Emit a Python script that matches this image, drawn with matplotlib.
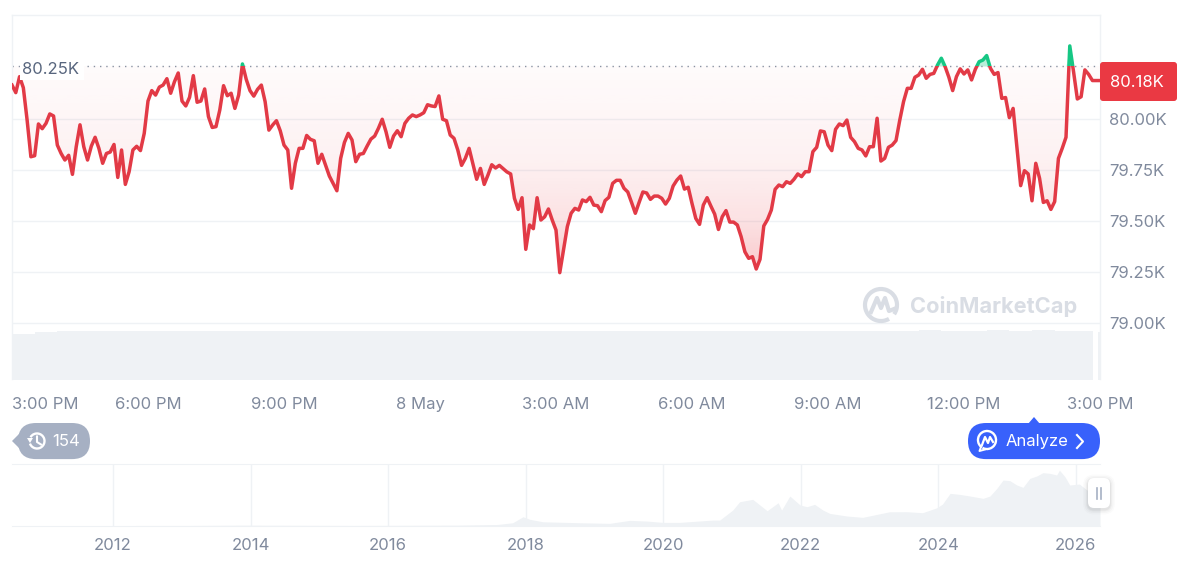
import numpy as np
import matplotlib
matplotlib.use('Agg')
import matplotlib.pyplot as plt
from matplotlib.patches import FancyBboxPatch, Polygon, Arc

plt.rcParams['font.family'] = ['Inter', 'DejaVu Sans']

# price in thousand USD, one reading every 5 minutes over 24 hours
prices = [
    80.164, 80.127, 80.205, 80.151, 79.993, 79.814, 79.819, 79.974, 79.951, 79.977, 80.023, 80.013,
    79.871, 79.830, 79.798, 79.821, 79.728, 79.863, 79.970, 79.863, 79.798, 79.866, 79.909, 79.855,
    79.782, 79.830, 79.837, 79.874, 79.713, 79.847, 79.679, 79.741, 79.847, 79.865, 79.844, 79.928,
    80.086, 80.137, 80.115, 80.154, 80.164, 80.195, 80.124, 80.180, 80.223, 80.086, 80.062, 80.104,
    80.210, 80.080, 80.086, 80.145, 80.010, 79.957, 79.961, 80.042, 80.161, 80.112, 80.124, 80.050,
    80.115, 80.267, 80.192, 80.137, 80.110, 80.143, 80.164, 80.083, 79.944, 79.969, 79.990, 79.941,
    79.871, 79.847, 79.660, 79.782, 79.855, 79.855, 79.918, 79.899, 79.892, 79.782, 79.826, 79.773,
    79.720, 79.684, 79.648, 79.806, 79.884, 79.928, 79.896, 79.790, 79.826, 79.830, 79.866, 79.900,
    79.915, 79.953, 79.997, 79.936, 79.860, 79.915, 79.941, 79.912, 79.977, 80.002, 80.018, 80.010,
    80.018, 80.029, 80.068, 80.062, 80.059, 80.111, 79.997, 79.990, 79.920, 79.904, 79.847, 79.772,
    79.806, 79.855, 79.779, 79.704, 79.757, 79.679, 79.725, 79.775, 79.759, 79.772, 79.756, 79.740,
    79.730, 79.611, 79.557, 79.614, 79.362, 79.481, 79.463, 79.614, 79.505, 79.521, 79.559, 79.505,
    79.456, 79.248, 79.359, 79.473, 79.538, 79.562, 79.554, 79.603, 79.595, 79.616, 79.578, 79.575,
    79.546, 79.600, 79.616, 79.684, 79.699, 79.699, 79.660, 79.642, 79.591, 79.538, 79.591, 79.642,
    79.637, 79.606, 79.622, 79.622, 79.611, 79.583, 79.611, 79.671, 79.700, 79.720, 79.656, 79.665,
    79.586, 79.513, 79.484, 79.578, 79.614, 79.573, 79.534, 79.459, 79.521, 79.551, 79.495, 79.495,
    79.481, 79.424, 79.350, 79.318, 79.326, 79.266, 79.313, 79.476, 79.508, 79.554, 79.655, 79.676,
    79.668, 79.692, 79.684, 79.704, 79.730, 79.717, 79.741, 79.741, 79.839, 79.860, 79.940, 79.936,
    79.871, 79.844, 79.948, 79.974, 79.966, 79.993, 79.909, 79.888, 79.855, 79.847, 79.818, 79.863,
    79.863, 80.002, 79.793, 79.806, 79.860, 79.871, 79.893, 79.993, 80.083, 80.148, 80.148, 80.202,
    80.213, 80.241, 80.197, 80.216, 80.221, 80.262, 80.295, 80.254, 80.202, 80.137, 80.205, 80.243,
    80.218, 80.238, 80.189, 80.241, 80.278, 80.286, 80.308, 80.246, 80.216, 80.225, 80.099, 80.103,
    80.005, 80.050, 79.863, 79.673, 79.746, 79.730, 79.599, 79.782, 79.709, 79.591, 79.599, 79.557,
    79.595, 79.806, 79.855, 79.909, 80.355, 80.229, 80.096, 80.107, 80.238, 80.216, 80.186, 80.186,
    80.186,
]
base_price = 80.257

# volume, half hour buckets, scaled to the panel height
volume = [
    0.84, 0.88, 0.90, 0.90, 0.89, 0.90, 0.90, 0.89, 0.90, 0.90, 0.89, 0.90,
    0.90, 0.90, 0.89, 0.90, 0.90, 0.90, 0.89, 0.89, 0.90, 0.90, 0.89, 0.90,
    0.89, 0.90, 0.90, 0.89, 0.90, 0.90, 0.89, 0.90, 0.89, 0.90, 0.90, 0.90,
    0.89, 0.90, 0.89, 0.90, 0.91, 0.90, 0.90, 0.91, 0.90, 0.91, 0.90, 0.90,
]

hour_ticks = [0, 3, 6, 9, 12, 15, 18, 21, 24]
hour_labels = ['3:00 PM', '6:00 PM', '9:00 PM', '8 May', '3:00 AM', '6:00 AM', '9:00 AM', '12:00 PM', '3:00 PM']
price_ticks = [79.0, 79.25, 79.5, 79.75, 80.0]
price_labels = ['79.00K', '79.25K', '79.50K', '79.75K', '80.00K']

# overview strip, whole history
hist_years = [2010.53, 2013.0, 2013.9, 2015.5, 2017.0, 2017.58, 2017.81, 2017.96, 2018.06, 2018.25, 2018.79,
              2019.22, 2019.51, 2019.76, 2019.99, 2020.24, 2020.72, 2020.82, 2021.01, 2021.11, 2021.30,
              2021.51, 2021.67, 2021.72, 2021.84, 2021.99, 2022.09, 2022.20, 2022.32, 2022.42, 2022.67,
              2022.90, 2023.29, 2023.54, 2023.77, 2023.98, 2024.06, 2024.17, 2024.31, 2024.46, 2024.65,
              2024.75, 2024.85, 2024.94, 2025.04, 2025.14, 2025.23, 2025.33, 2025.43, 2025.52, 2025.62,
              2025.72, 2025.76, 2025.84, 2025.91, 2026.05, 2026.16, 2026.35]
hist_prices = [0.1, 0.2, 1.0, 0.3, 1.0, 2.4, 6.6, 20.7, 14.6, 8.9, 6.6,
               5.2, 12.2, 10.6, 7.5, 7.5, 12.9, 12.9, 36.4, 55.9, 61.6,
               34.8, 53.6, 36.4, 69.3, 48.2, 44.3, 49.8, 36.5, 28.6, 22.4,
               19.3, 32.4, 32.5, 30.2, 41.9, 50.5, 75.6, 73.2, 69.3, 63.9,
               69.3, 87.3, 106.9, 105.3, 95.2, 89.7, 110.8, 116.3, 124.1, 122.6,
               118.7, 130.0, 114.7, 95.2, 97.5, 83.4, 80.2]
year_ticks = [2012, 2014, 2016, 2018, 2020, 2022, 2024, 2026]

RED = '#e23a46'
GREEN = '#16c784'
GRID = '#eff2f5'
GREY = '#808a9d'
FS = 12
W, H = 1200, 561


def px_axes(left, top, right, bottom, **kw):
    return fig.add_axes([left / W, 1 - bottom / H, (right - left) / W, (bottom - top) / H], **kw)


fig = plt.figure(figsize=(12, 5.61), dpi=100, facecolor='white')

hours = np.arange(len(prices)) / 12
prices = np.array(prices)

# ---- main price chart
ax = px_axes(12, 15, 1100, 379)
ymin, ymax = 78.729, 80.506
ax.set_xlim(0, 24)
ax.set_ylim(ymin, ymax)
for s in ['left', 'right', 'top']:
    ax.spines[s].set_color(GRID)
    ax.spines[s].set_linewidth(1)
ax.spines['bottom'].set_visible(False)
ax.set_xticks(hour_ticks)
ax.set_xticklabels(hour_labels)
ax.yaxis.tick_right()
ax.set_yticks(price_ticks)
ax.set_yticklabels(price_labels)
ax.tick_params(axis='both', length=0, labelcolor=GREY, labelsize=FS)
ax.tick_params(axis='x', pad=13)
ax.tick_params(axis='y', pad=6.5)
ax.xaxis.get_ticklabels()[0].set_ha('left')
ax.grid(axis='y', color=GRID, lw=1)
ax.set_axisbelow(True)

# gradient under the line, red under the base price and green over it
grad_y = np.linspace(base_price, 79.2, 200)
alpha = np.interp(grad_y, [79.2, 79.5, 79.8, base_price], [0.30, 0.15, 0.07, 0.02])
red_img = np.zeros((200, 1, 4))
red_img[..., :3] = matplotlib.colors.to_rgb('#ea3943')
red_img[..., 3] = alpha[:, None]
im = ax.imshow(red_img, extent=[0, 24, 79.2, base_price], aspect='auto', origin='upper', zorder=1.5)
poly = ax.fill_between(hours, np.minimum(prices, base_price), base_price, color='none', lw=0)
im.set_clip_path(poly.get_paths()[0], poly.get_transform())
ax.fill_between(hours, np.maximum(prices, base_price), base_price, color=GREEN, alpha=0.3, lw=0, zorder=1.5)

ax.axhline(base_price, color='#8a93a3', lw=1, ls=(0, (1, 3.5)), zorder=1.8)

line_red, = ax.plot(hours, prices, color=RED, lw=2.5, solid_joinstyle='round', zorder=3)
line_green, = ax.plot(hours, prices, color=GREEN, lw=2.5, solid_joinstyle='round', zorder=3)
clip_low = plt.Rectangle((0, ymin), 24, base_price - ymin, transform=ax.transData)
clip_high = plt.Rectangle((0, base_price), 24, ymax - base_price, transform=ax.transData)
line_red.set_clip_path(clip_low)
line_green.set_clip_path(clip_high)
ax.set_xlim(0, 24)
ax.set_ylim(ymin, ymax)

# ---- volume bars at the foot of the chart
ax_vol = px_axes(12, 325, 1100, 380, facecolor='none')
vol_hours = np.arange(len(volume)) / 2
widths = np.full(len(volume), 0.5)
widths[-1] = 0.35
ax_vol.bar(vol_hours, volume, width=widths, align='edge', color=GRID, lw=0)
ax_vol.bar([23.95], [0.88], width=0.05, align='edge', color=GRID, lw=0)
ax_vol.set_xlim(0, 24)
ax_vol.set_ylim(0, 1)
ax_vol.axis('off')

# ---- overview strip
ax_nav = px_axes(12, 464, 1100, 526)
ax_nav.fill_between(hist_years, hist_prices, -1, color=GRID, lw=0, zorder=2)
ax_nav.set_xlim(2010.53, 2026.35)
ax_nav.set_ylim(-1, 144.5)
ax_nav.set_yticks([])
ax_nav.set_xticks(year_ticks)
ax_nav.set_xticklabels([str(y) for y in year_ticks])
ax_nav.tick_params(axis='x', length=0, labelcolor=GREY, labelsize=FS, pad=9)
ax_nav.grid(axis='x', color=GRID, lw=1)
ax_nav.set_axisbelow(True)
for s in ['left', 'right']:
    ax_nav.spines[s].set_visible(False)
for s in ['top', 'bottom']:
    ax_nav.spines[s].set_color(GRID)

# ---- page furniture, drawn in pixel coordinates
ov = px_axes(0, 0, W, H, facecolor='none')
ov.set_xlim(0, W)
ov.set_ylim(H, 0)
ov.axis('off')

# base price label
ov.add_patch(plt.Rectangle((20, 60), 64, 19.5, color='white', lw=0, zorder=2))
ov.text(22, 69.5, '80.25K', color='#58667e', fontsize=FS, va='center', ha='left', zorder=3)

# current price chip
ov.add_patch(FancyBboxPatch((1103, 65), 71, 33, boxstyle='round,pad=3', color='#ea3943', lw=0))
ov.text(1137, 82, '80.18K', color='white', fontsize=FS, va='center', ha='center')

# watermark
wm = '#d9dde4'
ov.add_patch(Arc((881, 305), 32, 32, theta1=60, theta2=395, color=wm, lw=3))
ov.plot([871, 877, 881, 885, 889, 894], [312, 298, 308, 298, 311, 309], color=wm, lw=3, solid_joinstyle='round')
ov.text(910, 306.5, 'CoinMarketCap', color=wm, fontsize=15.7, fontweight='bold', va='center', ha='left')

# history badge
badge = '#a6b0c3'
ov.add_patch(FancyBboxPatch((36, 441), 36, 0.1, boxstyle='round,pad=18', color=badge, lw=0))
ov.add_patch(Polygon([(12, 441), (26, 427), (26, 455)], color=badge, lw=0))
ov.add_patch(Arc((37, 441), 15, 15, theta1=-150, theta2=160, color='white', lw=1.7))
ov.plot([37, 37, 41], [436.5, 442, 444.5], color='white', lw=1.5)
ov.add_patch(Polygon([(27, 438), (33, 438), (30, 443)], color='white', lw=0))
ov.text(52, 441.5, '154', color='white', fontsize=FS, va='center', ha='left')

# analyze button
blue = '#3861fb'
ov.add_patch(FancyBboxPatch((986, 441), 96, 0.1, boxstyle='round,pad=18', color=blue, lw=0))
ov.add_patch(Polygon([(1028, 424), (1034, 417), (1040, 424)], color=blue, lw=0))
ov.add_patch(Arc((987, 440), 18, 18, theta1=-235, theta2=120, color='white', lw=1.7))
ov.plot([982, 985, 988, 990, 993], [445, 437, 443, 437, 442], color='white', lw=1.6)
ov.plot([981, 979.5, 985], [447, 451, 449.5], color='white', lw=1.4)
ov.text(1006, 441.5, 'Analyze', color='white', fontsize=FS, va='center', ha='left')
ov.plot([1077, 1083, 1077], [435, 441.5, 448], color='white', lw=1.5, solid_joinstyle='round')

# range handle with a soft shadow
for grow, a in [(5, 0.015), (3.5, 0.025), (2, 0.03), (1, 0.04)]:
    ov.add_patch(FancyBboxPatch((1094, 485.5), 10, 18, boxstyle='round,pad=%.1f' % (6 + grow),
                                color='#000000', alpha=a, lw=0))
ov.add_patch(FancyBboxPatch((1094, 484), 10, 18, boxstyle='round,pad=6', color='white', lw=0))
ov.plot([1096.8, 1096.8], [488, 499], color=badge, lw=1.2)
ov.plot([1101, 1101], [488, 499], color=badge, lw=1.2)

fig.savefig('out.png', dpi=100, facecolor='white')
